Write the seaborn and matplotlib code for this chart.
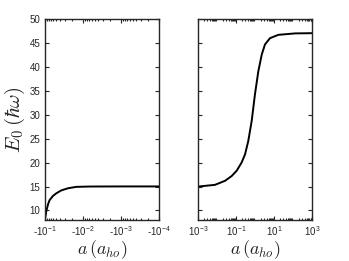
import numpy as np
import pandas as pd
import seaborn as sns
import matplotlib.pyplot as plt
from matplotlib.ticker import LogLocator, FixedLocator, NullFormatter

# left panel: negative scattering length
a_neg = [-0.1, -0.0923, -0.0832, -0.0759, -0.0617, -0.0501, -0.0372,
         -0.0245, -0.0151, -0.0066, -0.001, -0.0001]
E_neg = [8.2, 9.9, 11.3, 12.15, 13.05, 13.6, 14.2,
         14.65, 14.93, 15.0, 15.02, 15.02]

# right panel: positive scattering length
a_pos = [1e-3, 0.0076, 0.0257, 0.0575, 0.105, 0.19, 0.288, 0.427, 0.646,
         0.955, 1.445, 2.19, 3.24, 5.89, 16.2, 123.0, 1000.0]
E_pos = [15.0, 15.35, 16.2, 17.2, 18.3, 20.0, 21.7, 24.5, 28.7,
         34.2, 39.1, 42.6, 44.7, 46.0, 46.7, 47.0, 47.05]

xticks_neg = [1e-1, 1e-2, 1e-3, 1e-4]
xlabels_neg = [r"-10$^{\mathregular{-1}}$", r"-10$^{\mathregular{-2}}$",
               r"-10$^{\mathregular{-3}}$", r"-10$^{\mathregular{-4}}$"]
xticks_pos = [1e-3, 1e-1, 1e1, 1e3]
xlabels_pos = [r"10$^{\mathregular{-3}}$", r"10$^{\mathregular{-1}}$",
               r"10$^{\mathregular{1}}$", r"10$^{\mathregular{3}}$"]
yticks = [10, 15, 20, 25, 30, 35, 40, 45, 50]

sns.set_style("ticks")
plt.rcParams["font.family"] = ["Liberation Sans", "DejaVu Sans"]
plt.rcParams["mathtext.fontset"] = "cm"

fig = plt.figure(figsize=(3.49, 2.61), dpi=100)
ax1 = fig.add_axes([0.129, 0.157, 0.327, 0.770])
ax2 = fig.add_axes([0.568, 0.157, 0.327, 0.770])

df_neg = pd.DataFrame({"absa": np.abs(a_neg), "E": E_neg})
df_pos = pd.DataFrame({"a": a_pos, "E": E_pos})

sns.lineplot(data=df_neg, x="absa", y="E", ax=ax1, color="black", lw=1.4)
sns.lineplot(data=df_pos, x="a", y="E", ax=ax2, color="black", lw=1.4)

ax1.set_xscale("log")
ax1.set_xlim(1e-1, 1e-4)
ax2.set_xscale("log")
ax2.set_xlim(1e-3, 1e3)

for ax in (ax1, ax2):
    ax.set_ylim(8, 50)
    ax.yaxis.set_major_locator(FixedLocator(yticks))
    ax.tick_params(which="both", direction="in", top=True, right=True,
                   labelsize=7, width=0.8)
    ax.tick_params(which="major", length=3)
    ax.tick_params(which="minor", length=1.5)
    ax.xaxis.set_minor_locator(LogLocator(base=10, subs=np.arange(2, 10), numticks=20))
    ax.xaxis.set_minor_formatter(NullFormatter())
    for s in ax.spines.values():
        s.set_linewidth(1.0)
    ax.set_xlabel(r"$a\,(a_{ho})$", fontsize=13, labelpad=0)

ax1.set_xticks(xticks_neg)
ax1.set_xticklabels(xlabels_neg)
ax2.set_xticks(xticks_pos)
ax2.set_xticklabels(xlabels_pos)
ax2.set_yticklabels([])
ax2.set_ylabel("")
ax1.set_ylabel(r"$E_0\,(\hbar\omega)$", fontsize=15, labelpad=2)

fig.savefig("out.png", dpi=100)
